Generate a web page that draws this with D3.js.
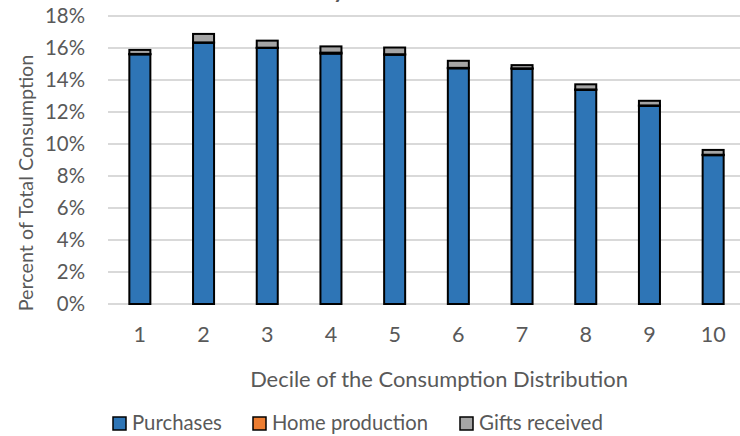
<!DOCTYPE html>
<html>
<head>
<meta charset="utf-8">
<script src="https://cdn.jsdelivr.net/npm/d3@7"></script>
<style>
  html, body { margin: 0; padding: 0; background: #fff; }
  svg { display: block; }
  text { font-family: Lato, "Open Sans", sans-serif; fill: #595959; }
</style>
</head>
<body>
<svg id="chart" width="740" height="436"></svg>
<script>
// ---- Data (percent of total consumption) ----
const deciles = ["1", "2", "3", "4", "5", "6", "7", "8", "9", "10"];
const purchases = [15.60, 16.33, 16.00, 15.65, 15.58, 14.73, 14.70, 13.38, 12.38, 9.30];
const homeProduction = [0.03, 0.02, 0.02, 0.06, 0.03, 0.03, 0.03, 0.03, 0.03, 0.03];
const giftsReceived = [0.25, 0.53, 0.44, 0.39, 0.42, 0.44, 0.20, 0.32, 0.29, 0.30];
const seriesNames = ["Purchases", "Home production", "Gifts received"];
const seriesColors = ["#2E75B6", "#ED7D31", "#A5A5A5"];
const yTicks = [0, 2, 4, 6, 8, 10, 12, 14, 16, 18];
const titleText = "Consumer Shares by Decile";
const xAxisTitle = "Decile of the Consumption Distribution";
const yAxisTitle = "Percent of Total Consumption";

const svg = d3.select("#chart");

const x = d3.scaleBand().domain(deciles).range([108, 745]).paddingInner(0.67).paddingOuter(0.335);
const y = d3.scaleLinear().domain([0, 18]).range([304, 16]);

// helper: scale font so a text reaches a target width
function fitFont(sel, targetW, base) {
  sel.style("font-size", base + "px");
  const w = sel.node().getComputedTextLength();
  const fs = base * targetW / w;
  sel.style("font-size", fs + "px");
  return fs;
}

// title (mostly above the visible area)
const title = svg.append("text").attr("y", -3).text(titleText).style("font-size", "31px");
{
  const idx = titleText.indexOf("y");
  const sub = title.node().getSubStringLength(0, idx);
  const yw = title.node().getSubStringLength(idx, 1);
  title.attr("x", 339.5 - sub - yw / 2);
}

// gridlines
svg.append("g").selectAll("line").data(yTicks).join("line")
  .attr("x1", 108).attr("x2", 745)
  .attr("y1", d => y(d)).attr("y2", d => y(d))
  .attr("stroke", "#d9d9d9").attr("stroke-width", 2);

// stacked data
const rows = deciles.map((d, i) => ({
  decile: d,
  "Purchases": purchases[i],
  "Home production": homeProduction[i],
  "Gifts received": giftsReceived[i]
}));
const stack = d3.stack().keys(seriesNames)(rows);

svg.append("g").selectAll("g").data(stack).join("g")
  .attr("fill", (d, i) => seriesColors[i])
  .selectAll("rect").data(d => d).join("rect")
  .attr("x", d => x(d.data.decile))
  .attr("width", x.bandwidth())
  .attr("y", d => y(d[1]))
  .attr("height", d => Math.max(0, y(d[0]) - y(d[1])))
  .attr("stroke", "#000").attr("stroke-width", 2);

// y tick labels
const ytl = svg.append("g").selectAll("text").data(yTicks).join("text")
  .attr("x", 85).attr("y", d => y(d))
  .attr("dy", "0.35em")
  .attr("text-anchor", "end")
  .text(d => d + "%");
{
  const probe = svg.append("text").text("18%");
  const fs = fitFont(probe, 40, 20);
  probe.remove();
  ytl.style("font-size", fs + "px");
}

// x tick labels
const xtl = svg.append("g").selectAll("text").data(deciles).join("text")
  .attr("x", d => x(d) + x.bandwidth() / 2)
  .attr("y", 342)
  .attr("text-anchor", "middle")
  .text(d => d);
{
  const probe = svg.append("text").text("10");
  const fs = fitFont(probe, 25, 20);
  probe.remove();
  xtl.style("font-size", fs + "px");
}

// axis titles
const xt = svg.append("text").attr("x", 439).attr("y", 387)
  .attr("text-anchor", "middle").text(xAxisTitle);
fitFont(xt, 378, 20);

const yt = svg.append("text")
  .attr("transform", "translate(33,183) rotate(-90)")
  .attr("text-anchor", "middle").text(yAxisTitle);
fitFont(yt, 257, 20);

// legend
const legendX = [113, 253, 460];
const legendW = [90, 156, 124];
const lg = svg.append("g");
seriesNames.forEach((name, i) => {
  lg.append("rect").attr("x", legendX[i]).attr("y", 417).attr("width", 13).attr("height", 13)
    .attr("fill", seriesColors[i]).attr("stroke", "#000").attr("stroke-width", 1.5);
  const t = lg.append("text").attr("x", legendX[i] + 19).attr("y", 430).text(name);
  fitFont(t, legendW[i], 20);
});
</script>
</body>
</html>
